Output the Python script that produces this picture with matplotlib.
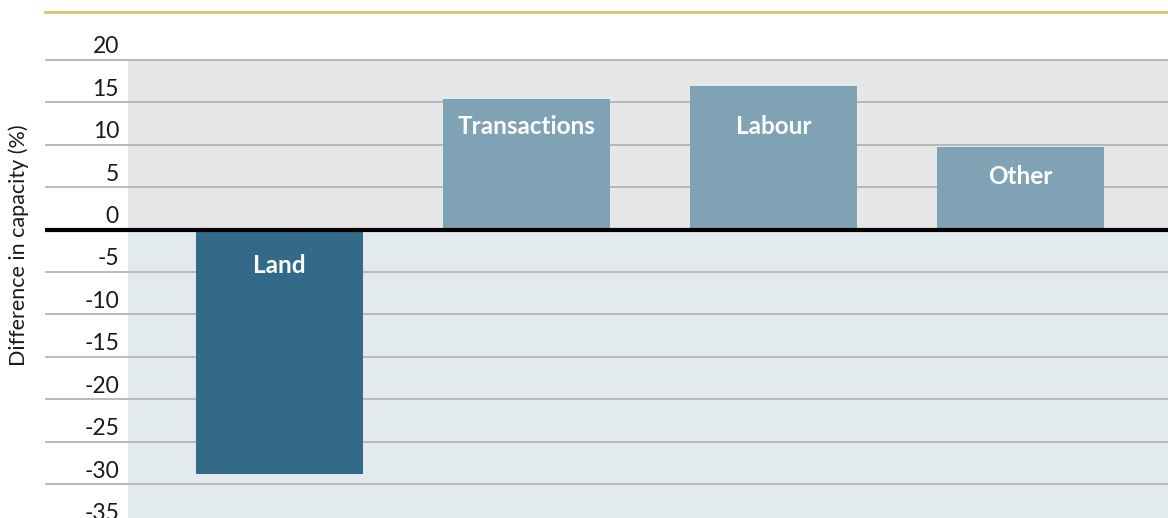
import matplotlib.pyplot as plt
from matplotlib.transforms import ScaledTranslation

# Data
categories = ["Land", "Transactions", "Labour", "Other"]
values = [-28.8, 15.35, 16.9, 9.7]
bar_colors = ["#336a87", "#7fa2b5", "#7fa2b5", "#7fa2b5"]
label_y = [-4.2, 12.1, 12.1, 6.2]
tick_values = [20, 15, 10, 5, 0, -5, -10, -15, -20, -25, -30, -35]
ylabel = "Difference in capacity (%)"

DPI = 100
fig = plt.figure(figsize=(11.68, 5.18), dpi=DPI)
# axes runs a little past the bottom edge so the -35 label is half cut off
ax = fig.add_axes([45 / 1168, -10 / 518, 1 - 45 / 1168, 516 / 518])

# shaded panels (start a bit right of the gridlines)
shade_x = (128 - 45) / 1123
ax.axhspan(0, 20, xmin=shade_x, xmax=1, color="#e6e7e9", zorder=0, lw=0)
ax.axhspan(-40, 0, xmin=shade_x, xmax=1, color="#e2eaed", zorder=0, lw=0)

for t in tick_values:
    if t != 0:
        ax.axhline(t, color="#b3b4b6", lw=1.3, zorder=1)

x = range(len(categories))
ax.bar(x, values, width=0.676, color=bar_colors, zorder=2)
ax.axhline(0, color="black", lw=3.0, zorder=3)

for i, (name, ly) in enumerate(zip(categories, label_y)):
    ax.text(i, ly, name, ha="center", va="center", color="white",
            fontsize=17.5, fontweight="bold", family="Lato", zorder=4)

# tick labels sit just above their gridlines, inside the axes
ax.set_yticks(tick_values)
ax.set_yticklabels([str(t) for t in tick_values], family="Lato", fontsize=16.5,
                   color="#1a1a1a")
ax.tick_params(axis="y", length=0, pad=-(119 - 45) * 72 / DPI)
ax.set_xticks([])
offset = ScaledTranslation(0, 15 / DPI, fig.dpi_scale_trans)
for lab in ax.get_yticklabels():
    lab.set_transform(lab.get_transform() + offset)
    lab.set_horizontalalignment("right")

# limits after the ticks, otherwise set_yticks widens them
ax.set_ylim(-35.12, 25.59)
ax.set_xlim(-0.949, 3.597)

for side in ["left", "right", "bottom"]:
    ax.spines[side].set_visible(False)
ax.spines["top"].set_color("#d9c56d")
ax.spines["top"].set_linewidth(2.0)

fig.text(19 / 1168, 1 - 245 / 518, ylabel, rotation=90, ha="center", va="center",
         family="Lato", fontsize=15.5, color="#1a1a1a")

fig.savefig("out.png", dpi=DPI)
